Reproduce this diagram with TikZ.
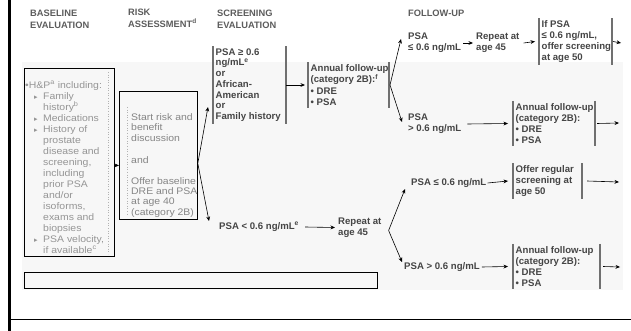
\documentclass[tikz,border=0pt]{standalone}
\usepackage{fontspec}
\setmainfont{Liberation Sans}
\newfontfamily\widefont[FakeStretch=1.1]{Liberation Sans}
\newfontfamily\dejavu{DejaVu Sans}
\usetikzlibrary{arrows.meta}
\definecolor{hdc}{HTML}{5C5C5C}
\definecolor{txc}{HTML}{454545}
\definecolor{ltc}{HTML}{959595}
\definecolor{rkc}{HTML}{858585}
\definecolor{barc}{HTML}{707070}
\definecolor{bgc}{HTML}{F7F7F7}
\newcommand{\subtri}{\makebox[9pt][l]{\dejavu\fontsize{7}{7}\selectfont ▸}}
\begin{document}
\begin{tikzpicture}[x=1pt,y=-1pt,
  hd/.style={font=\bfseries\fontsize{9.3}{12}\selectfont, text=hdc, align=left, inner sep=0pt, anchor=north west},
  bt/.style={font=\bfseries\fontsize{9.6}{11.2}\selectfont, text=txc, align=left, inner sep=0pt, anchor=west},
  bar/.style={draw=barc, line width=1.4pt},
  brk/.style={bt, inner xsep=2.5pt, inner ysep=2pt,
    append after command={(\tikzlastnode.north west) edge[bar] (\tikzlastnode.south west)
      ([xshift=#1]\tikzlastnode.north west) edge[bar] ([xshift=#1]\tikzlastnode.south west)}},
  arr/.style={-{Stealth[length=4.5pt,width=3.8pt]}, line width=0.6pt},
  frame/.style={draw, line width=0.8pt, inner sep=0pt, anchor=north west},
  dots/.style={draw=gray!60, dotted, line width=0.6pt},
  basetxt/.style={font=\widefont\fontsize{9.5}{11}\selectfont, text=ltc, align=left, inner sep=0pt, anchor=north west},
  risktxt/.style={font=\widefont\fontsize{9.5}{10.3}\selectfont, text=rkc, align=left, inner sep=0pt, anchor=north west}
]
\useasboundingbox (0,0) rectangle (631,331);
\fill[bgc] (22,62) rectangle (623,290);

% frame lines
\draw[line width=2.5pt] (9.5,0) -- (9.5,331);
\draw[line width=0.8pt] (9,319) -- (631,319);

% headings
\node[hd] (h1) at (30,9.6) {BASELINE\\EVALUATION};
\node[hd] (h2) at (128,8.6) {RISK\\ASSESSMENT\textsuperscript{d}};
\node[hd] (h3) at (217,9.6) {SCREENING\\EVALUATION};
\node[hd] (h4) at (408,9.6) {FOLLOW-UP};

% baseline box
\node[frame, minimum width=90, minimum height=188] (base) at (24,68) {};
\draw[dots] (108,72) -- (108,254);
\node[basetxt] (basetxt) at (25,80.5) {•H\&P\textsuperscript{a} including:\\
\hspace*{9pt}\subtri Family\\
\hspace*{18pt}history\textsuperscript{b}\\
\hspace*{9pt}\subtri Medications\\
\hspace*{9pt}\subtri History of\\
\hspace*{18pt}prostate\\
\hspace*{18pt}disease and\\
\hspace*{18pt}screening,\\
\hspace*{18pt}including\\
\hspace*{18pt}prior PSA\\
\hspace*{18pt}and/or\\
\hspace*{18pt}isoforms,\\
\hspace*{18pt}exams and\\
\hspace*{18pt}biopsies\\
\hspace*{9pt}\subtri PSA velocity,\\
\hspace*{18pt}if available\textsuperscript{c}};

% risk box
\node[frame, minimum width=78, minimum height=128] (risk) at (119,91) {};
\draw[dots] (127,107) -- (127,216);
\node[risktxt] (risktxt) at (131,113.6) {Start risk and\\benefit\\discussion\\[11.7pt]and\\[10.7pt]Offer baseline\\DRE and PSA\\at age 40\\(category 2B)};

% empty note box
\node[frame, minimum width=353, minimum height=16] (note) at (24,272) {};

% screening
\node[brk=73pt, font=\bfseries\fontsize{9.6}{10.7}\selectfont] (scrtop) at (213,85) {PSA ≥ 0.6\\ng/mL\textsuperscript{e}\\or\\African-\\American\\or\\Family history};
\node[bt] (lowpsa) at (219,227) {PSA < 0.6 ng/mL\textsuperscript{e}};
\node[brk=81pt] (ann1) at (308,85) {Annual follow-up\\(category 2B):\textsuperscript{f}\\• DRE\\• PSA};
\node[bt] (rep2) at (338,227.5) {Repeat at\\age 45};

% follow-up upper
\node[bt] (fu1) at (408,43) {PSA\\≤ 0.6 ng/mL};
\node[bt] (rep1) at (476,43) {Repeat at\\age 45};
\node[brk=73pt] (ifpsa) at (539,41.5) {If PSA\\≤ 0.6 ng/mL,\\offer screening\\at age 50};
\node[bt] (fu2) at (408,124) {PSA\\> 0.6 ng/mL};
\node[brk=82pt] (ann2) at (513,123.5) {Annual follow-up\\(category 2B):\\• DRE\\• PSA};

% follow-up lower
\node[bt] (fu3) at (411,183) {PSA ≤ 0.6 ng/mL};
\node[brk=69pt] (offer) at (513,181) {Offer regular\\screening at\\age 50};
\node[bt] (fu4) at (404,267) {PSA > 0.6 ng/mL};
\node[brk=87pt] (ann3) at (513,266.5) {Annual follow-up\\(category 2B):\\• DRE\\• PSA};

\coordinate (e1) at (621,43);
\coordinate (e2) at (619,123);
\coordinate (e3) at (619,182);
\coordinate (e4) at (620,267);

% connectors
\draw[arr] ([yshift=-3pt]base.east) -- ([yshift=-10pt]risk.west);
\draw[arr] ([yshift=-8pt]risk.east) -- ([shift={(-5pt,-22pt)}]scrtop.west);
\draw[arr] ([yshift=-8pt]risk.east) -- ([shift={(-10pt,6pt)}]lowpsa.west);
\draw[arr] ([xshift=73pt]scrtop.west) -- ([xshift=-3pt]ann1.west);
\draw[arr] ([xshift=82pt]ann1.west) -- ([shift={(-7pt,4pt)}]fu1.west);
\draw[arr] ([xshift=82pt]ann1.west) -- ([shift={(-6pt,2pt)}]fu2.west);
\draw[arr] ([xshift=2pt]fu1.east) -- ([xshift=-3pt]rep1.west);
\draw[arr] ([xshift=4pt]rep1.east) -- ([xshift=-4pt]ifpsa.west);
\draw[arr] ([xshift=74pt]ifpsa.west) -- (e1);
\draw[arr] ([xshift=6pt]fu2.east) -- ([xshift=-5pt]ann2.west);
\draw[arr] ([xshift=84pt]ann2.west) -- (e2);
\draw[arr] ([xshift=6pt]lowpsa.east) -- ([xshift=-3pt]rep2.west);
\draw[arr] ([shift={(7pt,-3pt)}]rep2.east) -- ([shift={(-6pt,-6pt)}]fu3.west);
\draw[arr] ([shift={(7pt,-3pt)}]rep2.east) -- ([shift={(-2pt,5pt)}]fu4.west);
\draw[arr] ([xshift=1pt]fu3.east) -- ([xshift=-5pt]offer.west);
\draw[arr] ([xshift=74pt]offer.west) -- (e3);
\draw[arr] ([xshift=2pt]fu4.east) -- ([xshift=-5pt]ann3.west);
\draw[arr] ([xshift=90pt]ann3.west) -- (e4);
\end{tikzpicture}
\end{document}
